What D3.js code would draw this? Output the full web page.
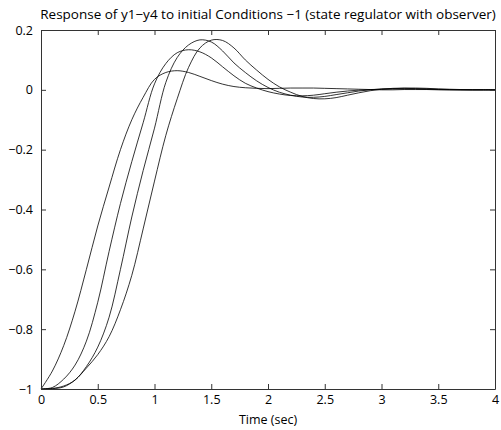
<!DOCTYPE html>
<html>
<head>
<meta charset="utf-8">
<script src="https://cdn.jsdelivr.net/npm/d3@7"></script>
<style>
  body { margin: 0; background: #fff; }
  text { font-family: "Open Sans", sans-serif; font-size: 12.5px; fill: #000; }
</style>
</head>
<body>
<svg id="chart" width="501" height="430"></svg>
<script>
// time samples (sec)
const time = d3.range(0, 41).map(i => +(i / 10).toFixed(1))

// responses, one value per time sample
const y1 = [-1, -0.94, -0.855, -0.74, -0.6, -0.455, -0.325, -0.2, -0.1, -0.025,
    0.035, 0.058, 0.064, 0.058, 0.045, 0.031, 0.019, 0.011, 0.007, 0.005,
    0.004, 0.005, 0.006, 0.006, 0.006, 0.005, 0.004, 0.003, 0.002, 0.001,
    0.0, 0.0, 0.001, 0.001, 0.001, 0.0, 0.0, 0.0, 0.0, 0.0, 0.0]
const y2 = [-1, -0.995, -0.967, -0.92, -0.84, -0.71, -0.54, -0.38, -0.24, -0.11,
    0.02, 0.088, 0.124, 0.134, 0.127, 0.107, 0.077, 0.047, 0.022, 0.006,
    -0.006, -0.014, -0.019, -0.02, -0.018, -0.013, -0.008, -0.004, -0.001, 0.001,
    0.002, 0.003, 0.003, 0.003, 0.002, 0.001, 0.0, 0.0, 0.0, 0.0, 0.0]
const y3 = [-1, -0.998, -0.99, -0.97, -0.925, -0.86, -0.76, -0.6, -0.425, -0.27,
    -0.128, 0.025, 0.108, 0.15, 0.167, 0.16, 0.13, 0.09, 0.058, 0.03,
    0.008, -0.008, -0.018, -0.024, -0.025, -0.022, -0.016, -0.01, -0.004, 0.0,
    0.003, 0.004, 0.005, 0.004, 0.003, 0.002, 0.001, 0.0, 0.0, 0.0, 0.0]
const y4 = [-1, -0.999, -0.993, -0.97, -0.93, -0.885, -0.825, -0.735, -0.62, -0.465,
    -0.305, -0.152, -0.03, 0.075, 0.14, 0.166, 0.165, 0.14, 0.1, 0.066,
    0.035, 0.01, -0.008, -0.022, -0.029, -0.03, -0.026, -0.018, -0.01, -0.003,
    0.002, 0.005, 0.006, 0.006, 0.005, 0.003, 0.002, 0.001, 0.0, 0.0, 0.0]
const series = [y1, y2, y3, y4]

const xTicks = [0, 0.5, 1, 1.5, 2, 2.5, 3, 3.5, 4]
const yTicks = [-1, -0.8, -0.6, -0.4, -0.2, 0, 0.2]

const title = 'Response of y1\u2212y4 to initial Conditions \u22121 (state regulator with observer)'
const xLabel = 'Time (sec)'

const box = { left: 41, right: 495, top: 30, bottom: 389 }

const x = d3.scaleLinear().domain([0, 4]).range([box.left, box.right])
const y = d3.scaleLinear().domain([-1, 0.2]).range([box.bottom, box.top])

const chart = d3.select('#chart')
const fmt = d => d === 0 ? '0' : String(d).replace('-', '\u2212')

// Draw the curves
const line = d3.line()
    .x((d, i) => x(time[i]))
    .y(d => y(d))
    .curve(d3.curveCatmullRom.alpha(0.5))

chart.selectAll()
    .data(series)
    .enter()
    .append('path')
    .attr('d', line)
    .attr('fill', 'none')
    .attr('stroke', '#000')
    .attr('stroke-width', 0.8)

// Axes with inward ticks on all four sides
const tick = 5
const axes = [
    [d3.axisBottom(x).tickValues(xTicks).tickFormat(fmt), `translate(0,${box.bottom})`, 6],
    [d3.axisTop(x).tickValues(xTicks).tickFormat(''), `translate(0,${box.top})`, 0],
    [d3.axisLeft(y).tickValues(yTicks).tickFormat(fmt), `translate(${box.left},0)`, 8],
    [d3.axisRight(y).tickValues(yTicks).tickFormat(''), `translate(${box.right},0)`, 0]
]
axes.forEach(([ax, tr, pad]) => {
    const g = chart.append('g')
        .attr('transform', tr)
        .call(ax.tickSizeInner(-tick).tickSizeOuter(0).tickPadding(pad))
    g.select('.domain').attr('stroke', '#333')
    g.selectAll('.tick line').attr('stroke', '#333')
    g.selectAll('text').attr('font-family', null).attr('font-size', null)
})

// Title and axis label
chart.append('text')
    .attr('x', (box.left + box.right) / 2)
    .attr('y', 19)
    .attr('text-anchor', 'middle')
    .style('font-size', '13.5px')
    .text(title)

chart.append('text')
    .attr('x', (box.left + box.right) / 2)
    .attr('y', 424)
    .attr('text-anchor', 'middle')
    .text(xLabel)
</script>
</body>
</html>
